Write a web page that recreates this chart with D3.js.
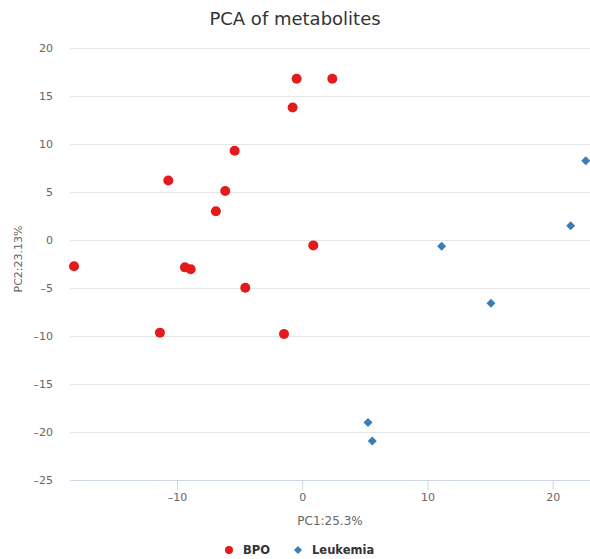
<!DOCTYPE html>
<html>
<head>
<meta charset="utf-8">
<script src="https://cdn.jsdelivr.net/npm/d3@7"></script>
<style>
  html, body { margin: 0; padding: 0; background: #fff; }
  svg { display: block; font-family: "DejaVu Sans", Verdana, sans-serif; }
</style>
</head>
<body>
<svg id="chart" width="590" height="559"></svg>
<script>
// ---- data ----
const bpoX = [-0.45, 2.4, -0.77, -5.4, -10.7, -6.15, -6.9, -18.23, -9.37, -8.91, -4.55, -11.37, -1.46, 0.88];
const bpoY = [16.8, 16.8, 13.8, 9.3, 6.2, 5.1, 3.0, -2.74, -2.85, -3.05, -4.97, -9.65, -9.79, -0.56];
const leukX = [22.64, 21.44, 11.13, 15.07, 5.25, 5.59];
const leukY = [8.26, 1.49, -0.66, -6.6, -19.0, -20.94];
const seriesNames = ["BPO", "Leukemia"];
const xTicks = [-10, 0, 10, 20];
const yTicks = [-25, -20, -15, -10, -5, 0, 5, 10, 15, 20];
const xDomain = [-18.55, 22.98];
const yDomain = [-25, 20];
const title = "PCA of metabolites";
const xTitle = "PC1:25.3%";
const yTitle = "PC2:23.13%";

const colors = { "BPO": "#e41a1c", "Leukemia": "#377eb8" };

const svg = d3.select("#chart");
const W = 590, H = 559;
const m = { left: 70, right: 0, top: 48, bottom: 79 };
const x = d3.scaleLinear().domain(xDomain).range([m.left, W - m.right]);
const y = d3.scaleLinear().domain(yDomain).range([H - m.bottom, m.top]);

const fmt = v => String(v).replace("-", "\u2013");

// title
svg.append("text").attr("x", W / 2).attr("y", 25).attr("text-anchor", "middle")
  .attr("font-size", 18).attr("fill", "#333").text(title);

// y grid + labels
const yAxis = d3.axisLeft(y).tickValues(yTicks).tickSize(-(W - m.left - m.right)).tickFormat(fmt).tickPadding(17);
const gy = svg.append("g").attr("transform", `translate(${m.left},0)`).call(yAxis);
gy.select(".domain").remove();
gy.selectAll(".tick line").attr("stroke", "#e6e6e6");
gy.selectAll(".tick text").attr("fill", "#666").attr("font-size", 11).attr("font-family", "DejaVu Sans");

// x axis
const xAxis = d3.axisBottom(x).tickValues(xTicks).tickSize(10).tickSizeOuter(0).tickFormat(fmt).tickPadding(3);
const gx = svg.append("g").attr("transform", `translate(0,${H - m.bottom})`).call(xAxis);
gx.select(".domain").attr("stroke", "#ccd6eb");
gx.selectAll(".tick line").attr("stroke", "#ccd6eb");
gx.selectAll(".tick text").attr("fill", "#666").attr("font-size", 11).attr("font-family", "DejaVu Sans");

// axis titles
svg.append("text").attr("x", (m.left + W - m.right) / 2).attr("y", 525).attr("text-anchor", "middle")
  .attr("font-size", 12).attr("fill", "#666").text(xTitle);
svg.append("text").attr("transform", `translate(21.5,259) rotate(-90)`)
  .attr("text-anchor", "middle").attr("font-size", 11).attr("fill", "#666").text(yTitle);

// points
const bpo = bpoX.map((v, i) => ({ x: v, y: bpoY[i] }));
const leuk = leukX.map((v, i) => ({ x: v, y: leukY[i] }));

svg.append("g").selectAll("circle").data(bpo).join("circle")
  .attr("cx", d => x(d.x)).attr("cy", d => y(d.y)).attr("r", 5)
  .attr("fill", colors["BPO"]);

const diamond = (cx, cy, r) => `M${cx},${cy - r}L${cx + r},${cy}L${cx},${cy + r}L${cx - r},${cy}Z`;
svg.append("g").selectAll("path").data(leuk).join("path")
  .attr("d", d => diamond(x(d.x), y(d.y), 4.5))
  .attr("fill", colors["Leukemia"]);

// legend
const legendItems = [
  { name: seriesNames[0], sx: 229, tx: 243 },
  { name: seriesNames[1], sx: 298, tx: 312 }
];
const lg = svg.append("g");
legendItems.forEach((it, i) => {
  if (i === 0) {
    lg.append("circle").attr("cx", it.sx).attr("cy", 550).attr("r", 4).attr("fill", colors[it.name]);
  } else {
    lg.append("path").attr("d", diamond(it.sx, 550, 4)).attr("fill", colors[it.name]);
  }
  lg.append("text").attr("x", it.tx).attr("y", 554).attr("font-size", 11.5).attr("font-weight", "bold")
    .attr("fill", "#333").text(it.name);
});
</script>
</body>
</html>
